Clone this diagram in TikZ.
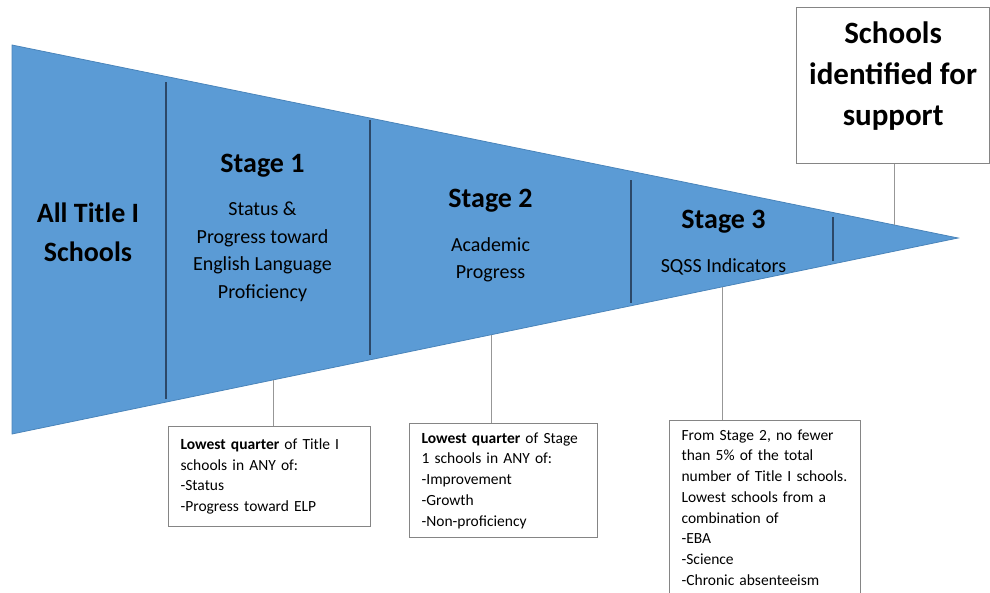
\documentclass[tikz,border=0pt]{standalone}
\usepackage{fontspec}
\setmainfont{Carlito}
\usetikzlibrary{positioning}

\definecolor{funnelblue}{HTML}{5B9BD5}
\definecolor{funneledge}{HTML}{4A84BA}
\definecolor{divider}{HTML}{2C4868}
\definecolor{boxgray}{HTML}{858585}

\begin{document}
\begin{tikzpicture}[x=1pt,y=-1pt,node distance=25pt,
  stagetitle/.style={inner sep=0pt,font=\fontsize{28}{39}\selectfont\bfseries,align=center},
  stagetext/.style={inner sep=0pt,font=\fontsize{20}{27.5}\selectfont,align=center},
  notebox/.style={draw=boxgray,line width=1.2pt,anchor=north west,align=left,inner xsep=12pt,inner ysep=9pt,font=\fontsize{15.5}{20.7}\selectfont},
  callout/.style={draw=boxgray!85,line width=1pt},
  divline/.style={draw=divider,line width=1.5pt}]
\useasboundingbox (0,0) rectangle (990,592);

\coordinate (tl) at (12,45);
\coordinate (tip) at (958,238);
\coordinate (bl) at (12,434);
\fill[funnelblue,draw=funneledge,line width=0.8pt] (tl) -- (tip) -- (bl) -- cycle;

\foreach \x/\ya/\yb in {166/82/399,370/120/355,631/180/303,833/217/261}
  \draw[divline] (\x,\ya) -- (\x,\yb);

\node[stagetitle](all) at (88,232) {All Title I\\Schools};

\node[stagetitle,anchor=base](s1) at (262.5,172) {Stage 1};
\node[stagetext](s1text)[below=of s1]{Status \&\\Progress toward\\English Language\\Proficiency};
\node[stagetitle,anchor=base](s2) at (490.5,207) {Stage 2};
\node[stagetext](s2text)[below=of s2]{Academic\\Progress};
\node[stagetitle,anchor=base](s3) at (723.5,228) {Stage 3};
\node[stagetext](s3text)[below=of s3]{SQSS Indicators};

\node[notebox,inner ysep=12pt,text width=178pt](box1) at (168,426)
  {\textbf{Lowest quarter} of Title I\\schools in ANY of:\\-Status\\-Progress toward ELP};
\node[notebox,text width=164pt](box2) at (409,423)
  {\textbf{Lowest quarter} of Stage\\1 schools in ANY of:\\-Improvement\\-Growth\\-Non-proficiency};
\node[notebox,text width=167pt](box3) at (669,420)
  {From Stage 2, no fewer\\than 5\% of the total\\number of Title I schools.\\Lowest schools from a\\combination of\\-EBA\\-Science\\-Chronic absenteeism};

\node[draw=boxgray,line width=1.2pt,anchor=north west,minimum width=193pt,minimum height=156pt](support) at (796,7) {};
\node[stagetitle,font=\fontsize{31}{41}\selectfont\bfseries](supporttext)[below=15pt of support.north]{Schools\\identified for\\support};

\coordinate (c1) at (273,380);
\coordinate (c2) at (491,335);
\coordinate (c3) at (722,287);
\coordinate (c4) at (894,225);
\draw[callout] (c1) -- (c1 |- box1.north);
\draw[callout] (c2) -- (c2 |- box2.north);
\draw[callout] (c3) -- (c3 |- box3.north);
\draw[callout] (c4) -- (c4 |- support.south);
\end{tikzpicture}
\end{document}
